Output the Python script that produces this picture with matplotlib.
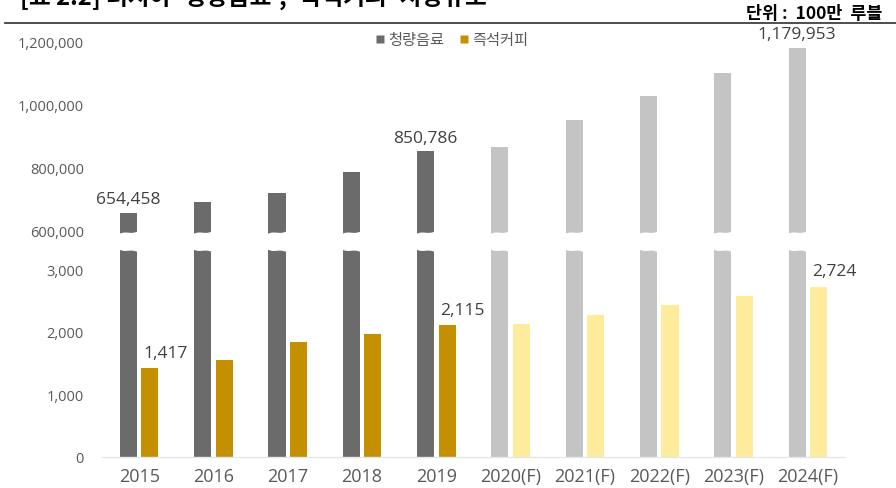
import numpy as np
import matplotlib
matplotlib.use('Agg')
import matplotlib.pyplot as plt
from matplotlib.patches import Polygon
from matplotlib.lines import Line2D
from matplotlib.transforms import blended_transform_factory

plt.rcParams['font.family'] = ['Open Sans', 'Noto Sans CJK KR', 'DejaVu Sans']

# ---------------- data ----------------
years = ['2015', '2016', '2017', '2018', '2019',
         '2020(F)', '2021(F)', '2022(F)', '2023(F)', '2024(F)']
soft_drinks = [654458, 690000, 718000, 785000, 850786,
               864000, 951000, 1028000, 1101000, 1179953]
instant_coffee = [1417, 1552, 1835, 1968, 2115,
                  2130, 2277, 2427, 2571, 2724]
series_names = ['청량음료', '즉석커피']
soft_labels_idx = [0, 4, 9]
coffee_labels_idx = [0, 4, 9]
top_ticks = [600000, 800000, 1000000, 1200000]
bottom_ticks = [0, 1000, 2000, 3000]
title = "[표 2.2] 러시아 '청량음료', '즉석커피' 시장규모"
unit_text = '단위 :  100만  루블'

# ---------------- style ----------------
W, H = 896, 489
soft_actual, soft_fc = '#6b6b6b', '#c4c4c4'
coffee_actual, coffee_fc = '#c49000', '#ffeb9c'
tick_color = '#595959'
label_color = '#404040'

fig = plt.figure(figsize=(W / 100, H / 100), dpi=100)

def fx(px):
    return px / W

def fy(py):
    return 1 - py / H

left, right = 102, 845
ax_top = fig.add_axes([fx(left), fy(240), fx(right - left), (240 - 30) / H])
ax_bot = fig.add_axes([fx(left), fy(458), fx(right - left), (458 - 248) / H])

x = np.arange(len(years))
w = 0.23
off = 0.145
is_fc = ['(F)' in y for y in years]
soft_cols = [soft_fc if f else soft_actual for f in is_fc]
coffee_cols = [coffee_fc if f else coffee_actual for f in is_fc]

for ax in (ax_top, ax_bot):
    ax.bar(x - off, soft_drinks, w, color=soft_cols, zorder=2)
    ax.set_xlim(-0.5, 9.5)
    for s in ax.spines.values():
        s.set_visible(False)
    ax.tick_params(axis='both', length=0, colors=tick_color)

ax_bot.bar(x + off, instant_coffee, w, color=coffee_cols, zorder=2)

# y scales
ax_top.set_ylim(571290, 1241470)
ax_top.set_yticks(top_ticks)
ax_top.set_yticklabels([f'{v:,}' for v in top_ticks], fontsize=10.5, color=tick_color)
ax_top.set_xticks([])
ax_top.tick_params(axis='y', pad=13)

ax_bot.set_ylim(0, 3360)
ax_bot.set_yticks(bottom_ticks)
ax_bot.set_yticklabels([f'{v:,}' for v in bottom_ticks], fontsize=10.5, color=tick_color)
ax_bot.set_xticks(x)
ax_bot.set_xticklabels(years, fontsize=13, color=tick_color)
ax_bot.tick_params(axis='y', pad=13)
ax_bot.tick_params(axis='x', pad=7)
ax_bot.spines['bottom'].set_visible(True)
ax_bot.spines['bottom'].set_color('#e6e6e6')
ax_bot.spines['bottom'].set_linewidth(1.0)

# wavy break masks
t = np.linspace(0, 1, 40)
tr_top = blended_transform_factory(ax_top.transData, ax_top.transAxes)
tr_bot = blended_transform_factory(ax_bot.transData, ax_bot.transAxes)
wave = 0.5 * (1 - np.cos(np.pi * t)) + 0.35 * np.sin(2 * np.pi * t)
for xi in x:
    xs = (xi - off - w / 2 - 0.03) + t * (w + 0.06)
    edge_top = 0.022 + 0.016 * wave
    pts = np.column_stack([xs, edge_top])
    pts = np.vstack([pts, [[xs[-1], -0.02], [xs[0], -0.02]]])
    ax_top.add_patch(Polygon(pts, closed=True, facecolor='white', edgecolor='none',
                             transform=tr_top, zorder=3, clip_on=False))
    edge_bot = 0.99 - 0.016 * wave
    pts = np.column_stack([xs, edge_bot])
    pts = np.vstack([pts, [[xs[-1], 1.02], [xs[0], 1.02]]])
    ax_bot.add_patch(Polygon(pts, closed=True, facecolor='white', edgecolor='none',
                             transform=tr_bot, zorder=3, clip_on=False))

# data labels
for i in soft_labels_idx:
    ax_top.annotate(f'{soft_drinks[i]:,}', (x[i] - off, soft_drinks[i]),
                    xytext=(0, 10), textcoords='offset points',
                    ha='center', va='center', fontsize=12.5, color=label_color)
for i in coffee_labels_idx:
    ax_bot.annotate(f'{instant_coffee[i]:,}', (x[i] + off, instant_coffee[i]),
                    xytext=(11, 11), textcoords='offset points',
                    ha='center', va='center', fontsize=12.5, color=label_color)

# legend
handles = [Line2D([], [], marker='s', linestyle='none', markersize=5.5,
                  markerfacecolor=soft_actual, markeredgecolor='none'),
           Line2D([], [], marker='s', linestyle='none', markersize=5.5,
                  markerfacecolor=coffee_actual, markeredgecolor='none')]
leg = fig.legend(handles, series_names, loc='center', bbox_to_anchor=(fx(452), fy(41)),
                 ncol=2, frameon=False, handlelength=0.6, handletextpad=0.25,
                 columnspacing=1.0, prop={'family': ['Noto Sans CJK KR'], 'size': 11})
for txt in leg.get_texts():
    txt.set_color(tick_color)

# title (cropped at the top, as in the source), separator line, unit
fig.text(fx(20), fy(6), title, ha='left', va='baseline', fontsize=17,
         fontweight='bold', family=['Noto Sans CJK KR'], color='black')
fig.add_artist(Line2D([fx(5), 1.0], [fy(24), fy(24)], color='#404040', lw=1.3))
fig.text(fx(882), fy(14), unit_text, ha='right', va='center', fontsize=12.5,
         fontweight='bold', family=['Noto Sans CJK KR'], color='black')

fig.savefig('out.png', dpi=100)
